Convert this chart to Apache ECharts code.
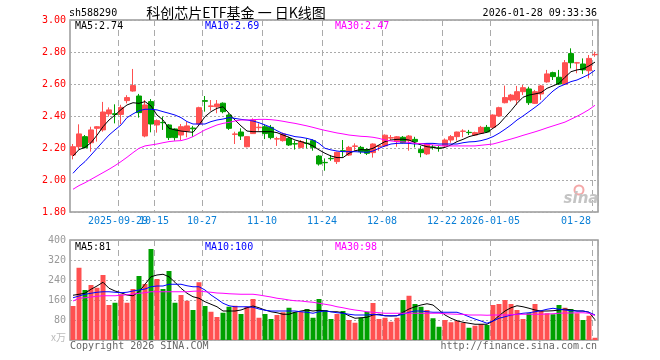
<!DOCTYPE html>
<html><head><meta charset="utf-8">
<script src="https://cdn.jsdelivr.net/npm/echarts@6/dist/echarts.min.js"></script>
<style>html,body{margin:0;padding:0;background:#fff}#c{width:660px;height:360px}</style>
</head><body><div id="c"></div>
<script>
const dates = ['2025-09-17','2025-09-18','2025-09-19','2025-09-22','2025-09-23','2025-09-24','2025-09-25','2025-09-26','2025-09-29','2025-09-30',
'2025-10-09','2025-10-10','2025-10-13','2025-10-14','2025-10-15','2025-10-16','2025-10-17','2025-10-20','2025-10-21','2025-10-22','2025-10-23','2025-10-24','2025-10-27','2025-10-28','2025-10-29','2025-10-30','2025-10-31',
'2025-11-03','2025-11-04','2025-11-05','2025-11-06','2025-11-07','2025-11-10','2025-11-11','2025-11-12','2025-11-13','2025-11-14','2025-11-17','2025-11-18','2025-11-19','2025-11-20','2025-11-21','2025-11-24','2025-11-25','2025-11-26','2025-11-27','2025-11-28',
'2025-12-01','2025-12-02','2025-12-03','2025-12-04','2025-12-05','2025-12-08','2025-12-09','2025-12-10','2025-12-11','2025-12-12','2025-12-15','2025-12-16','2025-12-17','2025-12-18','2025-12-19','2025-12-22','2025-12-23','2025-12-24','2025-12-25','2025-12-26','2025-12-29','2025-12-30','2025-12-31',
'2026-01-05','2026-01-06','2026-01-07','2026-01-08','2026-01-09','2026-01-12','2026-01-13','2026-01-14','2026-01-15','2026-01-16','2026-01-19','2026-01-20','2026-01-21','2026-01-22','2026-01-23','2026-01-26','2026-01-27','2026-01-28'];

const tickDates = ['2025-09-29','2025-10-15','2025-10-27','2025-11-10','2025-11-24','2025-12-08','2025-12-22','2026-01-05','2026-01-28'];
const tickLabels = ['2025-09-29','10-15','10-27','11-10','11-24','12-08','12-22','2026-01-05','01-28'];

const opens = [2.156,2.208,2.271,2.233,2.323,2.313,2.413,2.414,2.410,2.496,2.556,2.525,2.275,2.490,2.344,2.360,2.344,2.319,2.281,2.306,
2.325,2.350,2.496,2.460,2.458,2.480,2.406,2.285,2.300,2.208,2.290,2.327,2.333,2.329,2.256,2.246,2.260,2.227,2.204,2.230,
2.246,2.150,2.110,2.135,2.115,2.183,2.156,2.210,2.204,2.190,2.171,2.210,2.213,2.262,2.240,2.267,2.246,2.254,2.190,2.163,
2.206,2.200,2.213,2.250,2.271,2.304,2.298,2.281,2.292,2.329,2.329,2.400,2.483,2.500,2.500,2.552,2.569,2.479,2.538,2.613,
2.671,2.642,2.600,2.790,2.731,2.725,2.683,2.783];
const closes = [2.208,2.288,2.202,2.313,2.333,2.425,2.438,2.410,2.454,2.515,2.590,2.421,2.469,2.350,2.371,2.358,2.265,2.265,2.333,2.338,
2.320,2.452,2.492,2.463,2.475,2.427,2.323,2.288,2.275,2.271,2.375,2.330,2.290,2.265,2.258,2.288,2.219,2.225,2.240,2.228,
2.204,2.100,2.108,2.133,2.173,2.181,2.204,2.213,2.177,2.167,2.225,2.213,2.280,2.265,2.270,2.233,2.275,2.240,2.171,2.223,
2.204,2.198,2.250,2.271,2.300,2.306,2.296,2.296,2.329,2.300,2.406,2.452,2.515,2.531,2.552,2.577,2.483,2.552,2.588,2.663,
2.646,2.600,2.733,2.733,2.733,2.688,2.760,2.785];
const lows = [2.129,2.188,2.198,2.177,2.240,2.302,2.396,2.354,2.350,2.479,2.552,2.390,2.267,2.298,2.296,2.313,2.250,2.246,2.250,2.267,
2.270,2.344,2.427,2.433,2.417,2.417,2.313,2.225,2.250,2.204,2.288,2.308,2.256,2.254,2.213,2.240,2.213,2.190,2.198,2.198,
2.183,2.090,2.058,2.120,2.100,2.146,2.150,2.183,2.163,2.156,2.140,2.183,2.208,2.250,2.208,2.229,2.183,2.204,2.142,2.156,
2.190,2.177,2.204,2.233,2.246,2.267,2.281,2.275,2.288,2.296,2.323,2.396,2.479,2.490,2.469,2.531,2.469,2.475,2.500,2.608,
2.625,2.594,2.594,2.698,2.667,2.663,2.635,2.770];
const highs = [2.225,2.348,2.281,2.333,2.337,2.488,2.454,2.473,2.470,2.530,2.694,2.538,2.500,2.506,2.379,2.396,2.350,2.323,2.350,2.364,
2.338,2.458,2.525,2.500,2.500,2.485,2.417,2.302,2.323,2.275,2.385,2.354,2.346,2.344,2.270,2.296,2.270,2.246,2.250,2.260,
2.254,2.156,2.135,2.156,2.177,2.250,2.213,2.229,2.213,2.198,2.229,2.219,2.285,2.281,2.275,2.275,2.281,2.270,2.213,2.229,
2.219,2.213,2.260,2.281,2.302,2.317,2.313,2.302,2.338,2.344,2.410,2.458,2.590,2.538,2.588,2.594,2.583,2.563,2.594,2.688,
2.677,2.688,2.750,2.823,2.738,2.760,2.781,2.802];

const ma5 = [2.150,2.190,2.204,2.233,2.280,2.333,2.375,2.406,2.440,2.469,2.483,2.479,2.490,2.463,2.406,2.375,2.323,2.313,2.306,2.302,
2.298,2.344,2.396,2.427,2.448,2.458,2.417,2.375,2.338,2.306,2.302,2.302,2.302,2.302,2.296,2.281,2.267,2.250,2.240,2.229,
2.213,2.188,2.167,2.150,2.140,2.140,2.167,2.183,2.190,2.188,2.198,2.219,2.240,2.250,2.254,2.255,2.250,2.233,2.219,2.208,
2.204,2.198,2.204,2.219,2.240,2.254,2.271,2.281,2.290,2.298,2.323,2.350,2.392,2.433,2.479,2.517,2.531,2.538,2.546,2.573,
2.588,2.604,2.642,2.677,2.688,2.694,2.713,2.737];
const ma10 = [2.042,2.083,2.115,2.156,2.198,2.240,2.281,2.313,2.344,2.390,2.413,2.433,2.442,2.442,2.438,2.427,2.417,2.406,2.390,2.365,
2.350,2.350,2.350,2.365,2.375,2.381,2.390,2.385,2.379,2.375,2.369,2.358,2.344,2.329,2.308,2.290,2.281,2.271,2.267,2.260,
2.250,2.229,2.198,2.188,2.181,2.177,2.177,2.177,2.175,2.173,2.181,2.198,2.213,2.225,2.229,2.230,2.229,2.225,2.227,2.229,
2.229,2.225,2.225,2.225,2.225,2.233,2.238,2.240,2.246,2.256,2.271,2.292,2.317,2.344,2.375,2.400,2.427,2.454,2.483,2.521,
2.556,2.583,2.598,2.615,2.625,2.642,2.660,2.686];
const ma30 = [1.942,1.965,1.983,2.004,2.025,2.046,2.067,2.090,2.115,2.142,2.171,2.198,2.213,2.219,2.225,2.233,2.240,2.244,2.246,2.256,
2.271,2.292,2.313,2.329,2.344,2.354,2.360,2.369,2.375,2.375,2.377,2.379,2.379,2.377,2.373,2.367,2.360,2.354,2.346,2.338,
2.329,2.319,2.310,2.302,2.294,2.288,2.281,2.277,2.273,2.271,2.267,2.260,2.250,2.244,2.240,2.238,2.235,2.229,2.227,2.223,
2.219,2.215,2.213,2.213,2.213,2.213,2.213,2.213,2.217,2.221,2.225,2.235,2.246,2.256,2.267,2.279,2.290,2.301,2.313,2.326,
2.338,2.350,2.362,2.380,2.398,2.418,2.440,2.467];

const vols = [136,289,200,220,209,260,140,149,183,149,204,256,224,364,244,204,276,149,180,157,
120,231,136,113,92,109,133,137,104,133,164,89,104,84,100,111,129,111,113,124,
89,164,120,84,104,116,80,69,89,113,148,84,89,73,89,160,177,144,133,120,
87,53,80,71,76,69,49,57,63,60,140,144,160,144,120,84,107,144,116,107,
103,140,129,124,107,80,97,9];
const volMa5 = [179,183,187,203,216,231,207,196,189,180,177,193,223,253,260,263,253,231,207,187,
173,167,153,143,133,116,116,116,120,129,136,129,120,113,109,103,103,111,116,120,
116,119,117,113,113,109,97,87,89,91,100,103,97,96,97,111,124,133,140,145,
140,120,100,87,77,71,67,63,63,63,76,97,116,129,137,133,127,120,116,116,
117,120,124,120,116,116,111,81];
const volMa10 = [169,176,183,187,191,193,193,191,189,191,196,200,204,213,216,216,223,223,223,217,
213,213,200,180,164,147,137,133,133,133,131,124,119,116,116,116,116,116,113,111,
107,113,116,113,109,107,103,100,100,100,103,100,97,97,97,103,111,116,116,113,
111,111,111,111,111,103,93,84,76,67,76,87,93,100,103,107,109,113,117,123,
127,123,120,117,116,116,111,100];
const volMa30 = [156,167,169,172,175,177,177,177,179,181,184,187,189,193,193,193,193,193,193,193,
195,196,193,191,188,187,185,184,183,183,183,180,176,172,167,164,160,157,156,153,
151,147,143,139,133,129,124,120,117,113,111,109,107,107,107,107,107,107,107,107,
107,107,105,104,103,103,100,100,100,99,100,100,100,101,103,103,103,103,103,104,
105,107,108,108,109,109,107,98];

const UP = '#ff5050', DOWN = '#00a000';
const MONO = '"DejaVu Sans Mono", monospace';
const isTick = (v) => tickDates.indexOf(v) >= 0;
const candles = dates.map((d, i) => [opens[i], closes[i], lows[i], highs[i]]);
const last = a => a[a.length - 1];

function txt(x, y, s, color, align, font) {
  return {type:'text', x:x, y:y, silent:true, z:100,
    style:{text:s, fill:color, font:font || ('10px ' + MONO), align:align, textAlign:align, verticalAlign:'middle', textVerticalAlign:'middle'}};
}
function labelFmt(v) {
  const k = tickDates.indexOf(v); if (k < 0) return '';
  return (k === tickDates.length - 1 ? '{e|' : '{n|') + tickLabels[k] + '}';
}
const labelRich = {
  n:{fontFamily:MONO, fontSize:10, color:'#0a7fd6', padding:[0,6,0,0]},
  e:{fontFamily:MONO, fontSize:10, color:'#0a7fd6', padding:[0,38,0,0]}
};

const chart = echarts.init(document.getElementById('c'), null, {renderer:'canvas'});
const dashV = {show:true, interval:(i, v) => isTick(v), lineStyle:{color:'#aaa', type:[6,4], width:1}};
const option = {
  animation:false,
  backgroundColor:'#fff',
  grid:[
    {left:70, right:62, top:20, height:192, show:true, borderColor:'#999', borderWidth:1.5, backgroundColor:'transparent'},
    {left:70, right:62, top:240, height:100, show:true, borderColor:'#999', borderWidth:1.5, backgroundColor:'transparent'}
  ],
  xAxis:[
    {type:'category', gridIndex:0, data:dates, boundaryGap:true,
     axisLine:{show:false}, axisTick:{show:false}, splitLine:dashV,
     axisLabel:{show:true, hideOverlap:false, interval:(i, v) => isTick(v) && v !== tickDates[0], margin:4,
       formatter:labelFmt, rich:labelRich}},
    {type:'category', gridIndex:1, data:dates, boundaryGap:true,
     axisLine:{show:false}, axisTick:{show:false}, axisLabel:{show:false}, splitLine:dashV},
    {type:'category', gridIndex:0, position:'bottom', data:dates, boundaryGap:true,
     axisLine:{show:false}, axisTick:{show:false}, splitLine:{show:false},
     axisLabel:{show:true, hideOverlap:false, interval:(i, v) => v === tickDates[0], margin:4,
       formatter:labelFmt, rich:labelRich}}
  ],
  yAxis:[
    {type:'value', gridIndex:0, min:1.8, max:3.0, interval:0.2,
     axisLine:{show:false}, axisTick:{show:false},
     splitLine:{show:true, lineStyle:{color:'#aaa', type:[2,2], width:1}},
     axisLabel:{margin:4, color:'#ff0000', fontFamily:MONO, fontSize:10, formatter:v => v.toFixed(2)}},
    {type:'value', gridIndex:1, min:0, max:400, interval:80,
     axisLine:{show:false}, axisTick:{show:false},
     splitLine:{show:true, lineStyle:{color:'#aaa', type:[2,2], width:1}},
     axisLabel:{margin:4, color:'#999', fontFamily:MONO, fontSize:10,
       formatter:v => v === 0 ? '{u|x万}' : String(v),
       rich:{u:{color:'#bbb', fontFamily:'"Noto Sans CJK SC", sans-serif', fontSize:10, padding:[0,0,6,0]}}}}
  ],
  series:[
    {type:'candlestick', xAxisIndex:0, yAxisIndex:0, data:candles, barWidth:5,
     itemStyle:{color:UP, color0:DOWN, borderColor:UP, borderColor0:DOWN, borderWidth:1}},
    {type:'line', xAxisIndex:0, yAxisIndex:0, data:ma5, symbol:'none', lineStyle:{color:'#000', width:1}},
    {type:'line', xAxisIndex:0, yAxisIndex:0, data:ma10, symbol:'none', lineStyle:{color:'#0000ff', width:1}},
    {type:'line', xAxisIndex:0, yAxisIndex:0, data:ma30, symbol:'none', lineStyle:{color:'#ff00ff', width:1}},
    {type:'bar', xAxisIndex:1, yAxisIndex:1, data:vols, barWidth:5,
     itemStyle:{color:p => closes[p.dataIndex] >= opens[p.dataIndex] ? UP : DOWN}},
    {type:'line', xAxisIndex:1, yAxisIndex:1, data:volMa5, symbol:'none', lineStyle:{color:'#000', width:1}},
    {type:'line', xAxisIndex:1, yAxisIndex:1, data:volMa10, symbol:'none', lineStyle:{color:'#0000ff', width:1}},
    {type:'line', xAxisIndex:1, yAxisIndex:1, data:volMa30, symbol:'none', lineStyle:{color:'#ff00ff', width:1}}
  ],
  graphic:[
    txt(69, 13, 'sh588290', '#000', 'left'),
    txt(236, 13, '科创芯片ETF基金 一 日K线图', '#000', 'center', '14px "Noto Sans CJK SC", sans-serif'),
    txt(597, 13, '2026-01-28 09:33:36', '#000', 'right'),
    txt(75, 26, 'MA5:' + last(ma5).toFixed(2), '#000', 'left'),
    txt(205, 26, 'MA10:' + last(ma10).toFixed(2), '#0000ff', 'left'),
    txt(335, 26, 'MA30:' + last(ma30).toFixed(2), '#ff00ff', 'left'),
    txt(75, 247, 'MA5:' + Math.round(last(volMa5)), '#000', 'left'),
    txt(205, 247, 'MA10:' + Math.round(last(volMa10)), '#0000ff', 'left'),
    txt(335, 247, 'MA30:' + Math.round(last(volMa30)), '#ff00ff', 'left'),
    txt(70, 346, 'Copyright 2026 SINA.COM', '#666', 'left'),
    txt(597, 346, 'http://finance.sina.com.cn', '#666', 'right'),
    {type:'circle', shape:{cx:579, cy:190, r:4.5}, silent:true, z:50,
     style:{fill:'none', stroke:'#f4a8a8', lineWidth:2}},
    txt(581, 199, 'sina', '#c4c4c4', 'center', 'italic bold 15px "DejaVu Sans", sans-serif')
  ]
};
chart.setOption(option);
</script>
</body></html>
